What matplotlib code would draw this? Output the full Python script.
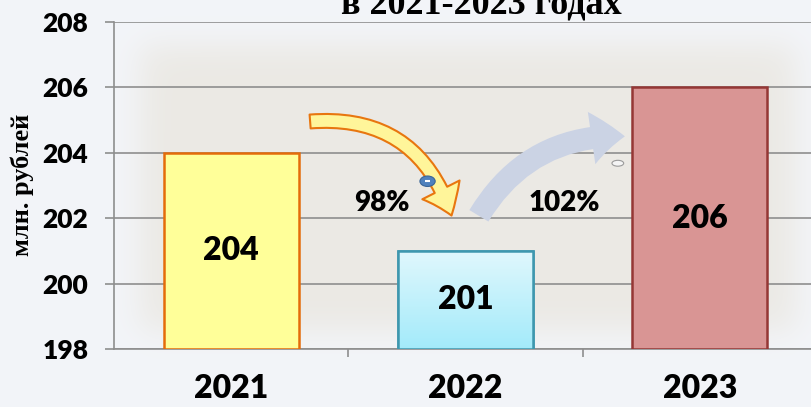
import numpy as np
import matplotlib
matplotlib.use('Agg')
import matplotlib.pyplot as plt
from matplotlib.patches import FancyArrowPatch, Ellipse

# data
years = ['2021', '2022', '2023']
values = [204, 201, 206]
pct_labels = ['98%', '102%']
yticks = [198, 200, 202, 204, 206, 208]

fills = ['#FFFF99', '#C4F1FC', '#D99594']
edges = ['#E46C0A', '#3E97AE', '#953735']

plt.rcParams['font.family'] = ['Lato', 'DejaVu Sans']

fig = plt.figure(figsize=(8.11, 4.07), dpi=100)
fig.patch.set_facecolor('#F3F5F9')

# soft textured-looking panel behind the plot
bg = fig.add_axes([0, 0, 1, 1], zorder=0)
bg.set_axis_off()
h, w = 407, 811
yy, xx = np.mgrid[0:h, 0:w]
def soft(v, a, b, s):
    return 1 / (1 + np.exp(-(v - a) / s)) * 1 / (1 + np.exp((v - b) / s))
mask = soft(xx, 140, 795, 10) * soft(yy, 45, 330, 10)
base = np.array([243, 245, 249]) / 255
panel = np.array([235, 233, 228]) / 255
img = base * (1 - mask[..., None]) + panel * mask[..., None]
bg.imshow(img, extent=[0, 1, 0, 1], aspect='auto', transform=bg.transAxes)

ax = fig.add_axes([0.1406, 0.1425, 0.8668, 0.8035], zorder=1)
ax.set_facecolor('none')
x = np.arange(len(years))
ax.set_xlim(-0.5, 2.5)
ax.set_ylim(198, 208)
ax.set_yticks(yticks)
ax.set_yticklabels([str(t) for t in yticks], fontsize=19, fontweight='heavy')
ax.yaxis.grid(True, color='#8E8E8E', lw=1.2)
ax.set_axisbelow(True)
for s in ['top', 'right']:
    ax.spines[s].set_visible(False)
for s in ['left', 'bottom']:
    ax.spines[s].set_color('#8E8E8E')
    ax.spines[s].set_linewidth(1.2)
ax.tick_params(axis='y', length=6.5, color='#8E8E8E', width=1.2, pad=12)
ax.set_xticks(x)
ax.set_xticklabels(years, fontsize=23, fontweight='heavy')
ax.tick_params(axis='x', which='major', length=0, pad=18)
ax.set_xticks([0.5, 1.5, 2.5], minor=True)
ax.tick_params(axis='x', which='minor', length=6, color='#8E8E8E', width=1.2)

bars = ax.bar(x, [v - 198 for v in values], bottom=198, width=0.575,
              color=fills, edgecolor=edges, linewidth=1.8, zorder=3)

# gradient for the 2022 bar
grad = np.linspace(0, 1, 100)[:, None]
top_c = np.array([0.88, 0.97, 0.99])
bot_c = np.array([0.64, 0.92, 0.98])
gimg = top_c * (1 - grad[..., None]) + bot_c * grad[..., None]
b = bars[1]
im = ax.imshow(gimg, extent=[b.get_x(), b.get_x() + b.get_width(), 198, values[1]],
               aspect='auto', zorder=3.1)
im.set_clip_path(b)
ax.bar(x[1], values[1] - 198, bottom=198, width=0.575, color='none',
       edgecolor=edges[1], linewidth=1.8, zorder=3.2)
ax.set_xlim(-0.5, 2.5)
ax.set_ylim(198, 208)

for xi, v in zip(x, values):
    ax.text(xi, (198 + v) / 2, str(v), ha='center', va='center',
            fontsize=23, fontweight='heavy', zorder=5)

# arrows
a1 = FancyArrowPatch((0.325, 204.95), (0.944, 202.0),
                     connectionstyle='arc3,rad=-0.4',
                     arrowstyle='simple,tail_width=10,head_width=30,head_length=20',
                     mutation_scale=1, facecolor='#FFF59A', edgecolor='#E8760F',
                     lw=1.5, zorder=4)
ax.add_patch(a1)
a2 = FancyArrowPatch((1.051, 202.0), (1.692, 204.5),
                     connectionstyle='arc3,rad=-0.3',
                     arrowstyle='simple,tail_width=16,head_width=38,head_length=24',
                     mutation_scale=1, facecolor='#CBD3E4', edgecolor='none',
                     zorder=4)
ax.add_patch(a2)

ax.add_patch(Ellipse((0.838, 203.13), 0.065, 0.32, facecolor='#4F81BD',
                     edgecolor='#3A6596', lw=0.8, zorder=5))
ax.plot([0.826, 0.850], [203.13, 203.13], color='white', lw=1.5, zorder=6,
        solid_capstyle='butt')
ax.add_patch(Ellipse((1.65, 203.68), 0.05, 0.18, facecolor='#F4F4F4',
                     edgecolor='#9A9A9A', lw=0.8, zorder=5))

ax.text(0.645, 202.46, pct_labels[0], ha='center', va='center',
        fontsize=20, fontweight='heavy', zorder=6)
ax.text(1.423, 202.46, pct_labels[1], ha='center', va='center',
        fontsize=20, fontweight='heavy', zorder=6)

fig.text(0.027, 0.545, 'млн. рублей', rotation=90, ha='center', va='center',
         fontsize=19, fontweight='bold', family=['Liberation Serif', 'DejaVu Serif'])
fig.text(0.594, 0.968, 'в 2021-2023 годах', ha='center', va='baseline',
         fontsize=26, fontweight='bold', family=['Liberation Serif', 'DejaVu Serif'])

fig.savefig('out.png', dpi=100, facecolor=fig.get_facecolor())
